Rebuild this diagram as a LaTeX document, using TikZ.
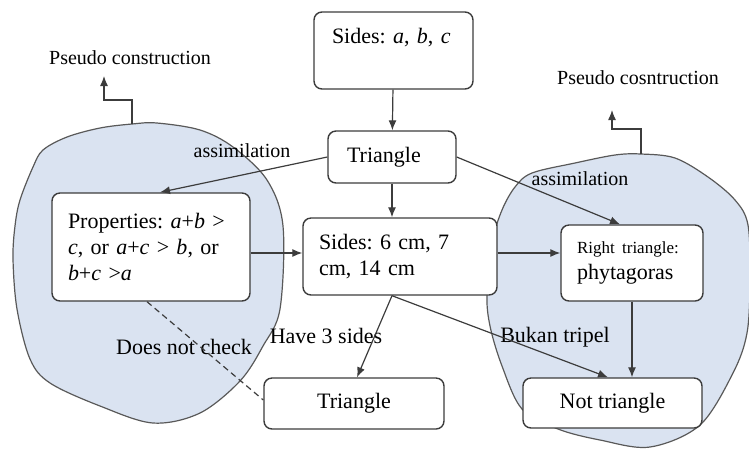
\documentclass[tikz,border=0pt]{standalone}
\usepackage{fontspec}
\setmainfont{Liberation Serif}
\usetikzlibrary{arrows.meta,positioning,calc}
\definecolor{linegray}{HTML}{3C3C3C}
\definecolor{blobblue}{HTML}{DAE3F1}
\tikzset{
  box/.style={rectangle, rounded corners=4pt, draw=linegray, line width=0.7pt, fill=white, inner sep=0pt},
  arr/.style={-{Latex[length=5pt,width=4pt]}, draw=linegray, line width=0.6pt},
  blob/.style={draw=linegray!85, fill=blobblue, line width=0.6pt},
  lbl/.style={inner sep=0pt},
  small/.style={font=\fontsize{10}{12}\selectfont},
}
\frenchspacing

\begin{document}
\begin{tikzpicture}[x=0.5pt, y=-0.5pt, font=\fontsize{11}{12.8}\selectfont]
	  \useasboundingbox (0,0) rectangle (749,452);
	  % the two assimilation areas
	  \draw[blob] plot[smooth cycle, tension=0.55] coordinates {(132,124) (157,123) (200,130) (233,147) (267,180) (283,226) (280,309) (263,346) (240,381) (200,413) (153,423) (100,406) (50,383) (30,359) (17,309) (13,259) (15,226) (20,200) (33,167) (43,150) (67,137) (100,128)};
	  \draw[blob] plot[smooth cycle, tension=0.55] coordinates {(641,154) (675,158) (708,177) (735,200) (748,225) (750,280) (747,333) (733,373) (700,425) (650,447) (600,440) (558,429) (522,409) (502,366) (490,326) (487,293) (493,240) (502,210) (515,187) (532,173) (575,163) (615,155)};
	  % boxes
	  \node[box, minimum width=79.5pt, minimum height=38.5pt, text width=61.5pt, align=left, text height=7.5pt, text depth=15pt] (sides) at (393.5,50.5) {Sides: \textit{a}, \textit{b}, \textit{c}};
	  \node[box, minimum width=64pt, minimum height=26pt, text width=45pt, align=left] (tri1) at (392,157) {Triangle};
	  \node[box, minimum width=99pt, minimum height=54pt, text width=83pt, align=left] (props) at (151,247) {Properties: \textit{a}+\textit{b} >\\ \textit{c}, or \textit{a}+\textit{c} > \textit{b}, or\\ \textit{b}+\textit{c} >\textit{a}};
	  \node[box, minimum width=97pt, minimum height=38.5pt, text width=81pt, align=left] (sides2) at (400,256.5) {Sides: 6 cm, 7\\ cm, 14 cm};
	  \node[box, minimum width=71pt, minimum height=38pt, text width=55pt, align=left] (right) at (632,263) {{\fontsize{8.5}{10}\selectfont Right triangle:}\\ phytagoras};
	  \node[box, minimum width=90pt, minimum height=25.5pt] (tri2) at (354,403.5) {Triangle};
	  \node[box, minimum width=89.5pt, minimum height=25pt] (not) at (612.5,403) {Not triangle};
	  % labels
	  \node[lbl, small] (pseudoL) at (130,58) {Pseudo construction};
	  \node[lbl, small] (pseudoR) at (638,78) {Pseudo cosntruction};
	  \node[lbl, small] (assimL) at (242,151) {assimilation};
	  \node[lbl, small] (assimR) at (580,179) {assimilation};
	  \node[lbl] (nocheck) at (184,346.5) {Does not check};
	  \node[lbl] (have3) at (326,335.5) {Have 3 sides};
	  \node[lbl] (bukan) at (555,337.5) {Bukan tripel};
	  % arrows
	  \draw[arr] (sides) -- (tri1);
	  \draw[arr] (tri1.south) -- (tri1.south |- sides2.north);
	  \draw[arr] (tri1.west) -- ([xshift=4.5pt]props.north);
	  \draw[arr] (tri1.east) -- ([xshift=-6pt]right.north);
	  \draw[arr] ([yshift=-3pt]props.east) -- ([yshift=-3pt]props.east -| sides2.west);
	  \draw[arr] ([yshift=1.75pt]sides2.east) -- ([yshift=1.75pt]sides2.east -| right.west);
	  \draw[arr] (right.south) -- (right.south |- not.north);
	  \coordinate (split) at ([xshift=-4pt]sides2.south);
	  \draw[arr] (split) -- ([xshift=1.5pt]tri2.north);
	  \draw[arr] (split) -- ([xshift=-2.25pt]not.north);
	  \draw[linegray, line width=0.6pt, dash pattern=on 3pt off 2pt] ([xshift=-2pt]props.south) -- ([yshift=1.75pt]tri2.west);
	  \coordinate (topL) at (132,124);
	  \coordinate (tipL) at (104,76);
	  \draw[arr] (topL) -- ++(0,-24) -| (tipL);
	  \coordinate (topR) at (641,154);
	  \coordinate (tipR) at (612,110);
	  \draw[arr] (topR) -- ++(0,-25) -| (tipR);
	\end{tikzpicture}
\end{document}
